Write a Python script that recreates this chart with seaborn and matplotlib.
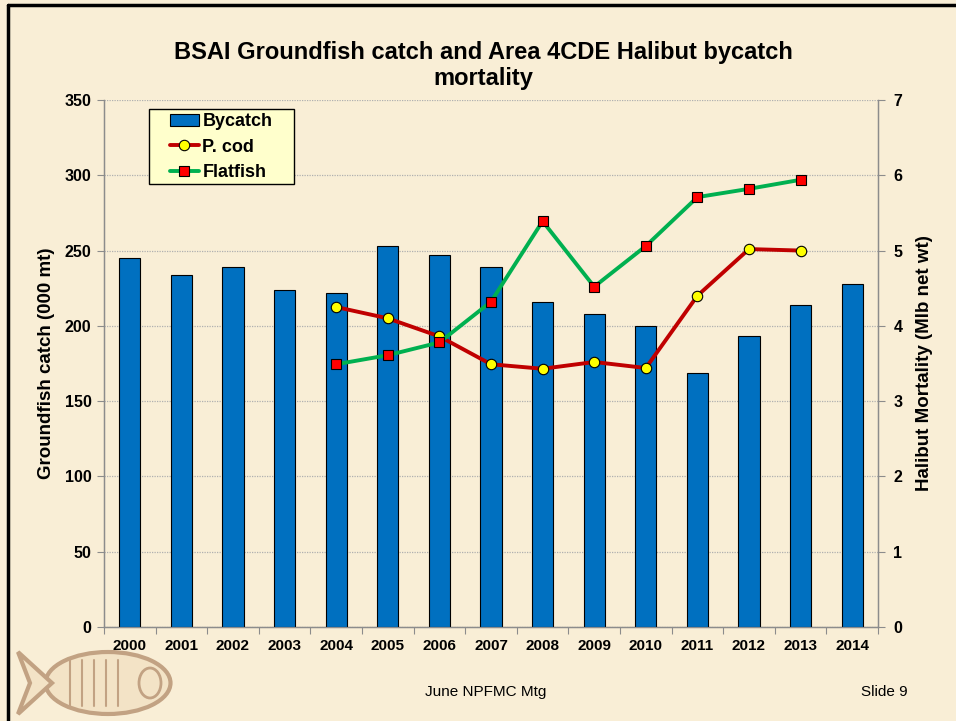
import numpy as np
import pandas as pd
import matplotlib
matplotlib.use("Agg")
import matplotlib.pyplot as plt
from matplotlib.patches import Patch, Ellipse, Polygon, Rectangle
from matplotlib.lines import Line2D
import seaborn as sns

years = ["2000", "2001", "2002", "2003", "2004", "2005", "2006", "2007",
         "2008", "2009", "2010", "2011", "2012", "2013", "2014"]
catch = [245, 234, 239, 224, 222, 253, 247, 239, 216, 208, 200, 169, 193, 214, 228]
pcod_years = ["2004", "2005", "2006", "2007", "2008", "2009", "2010", "2011", "2012", "2013"]
pcod = [4.25, 4.10, 3.86, 3.49, 3.43, 3.52, 3.44, 4.40, 5.02, 5.00]
flat_years = ["2004", "2005", "2006", "2007", "2008", "2009", "2010", "2011", "2012", "2013"]
flatfish = [3.49, 3.61, 3.78, 4.32, 5.39, 4.52, 5.06, 5.71, 5.82, 5.94]

bg = "#F9EED6"
bar_col = "#0070C0"
grey = "#8C8C8C"

sns.set_style("ticks")
plt.rcParams["font.family"] = ["Liberation Sans", "DejaVu Sans"]
plt.rcParams["text.color"] = "black"
plt.rcParams["axes.labelcolor"] = "black"

fig = plt.figure(figsize=(9.56, 7.21), dpi=100, facecolor=bg)
ax = fig.add_axes([104 / 956, 1 - 627 / 721, 774 / 956, 527 / 721])
ax.set_facecolor("none")

df = pd.DataFrame({"year": years, "catch": catch})
sns.barplot(data=df, x="year", y="catch", ax=ax, color=bar_col, width=0.41,
            saturation=1, edgecolor="black", linewidth=0.8, zorder=3)

ax.set_ylim(0, 350)
ax.set_xlim(-0.5, len(years) - 0.5)
ax.set_yticks(range(0, 351, 50))
ax.yaxis.grid(True, linestyle=(0, (1, 1)), color="#B0B0B0", linewidth=0.9, zorder=0)
ax.set_axisbelow(True)
ax.set_xlabel("")
ax.set_ylabel("Groundfish catch (000 mt)", fontsize=13.5, fontweight="bold", labelpad=7)
ax.tick_params(axis="x", length=0, pad=9, labelsize=11, labelcolor="black")
ax.set_xticks(np.arange(-0.5, len(years), 1.0), minor=True)
ax.tick_params(axis="x", which="minor", length=5, color=grey, width=0.8)
ax.tick_params(axis="y", length=5, color=grey, width=0.8, labelsize=11.5, pad=4,
               labelcolor="black")
for lab in ax.get_xticklabels() + ax.get_yticklabels():
    lab.set_fontweight("bold")
for s in ["left", "bottom", "right"]:
    ax.spines[s].set_color(grey)
    ax.spines[s].set_linewidth(1)
ax.spines["top"].set_visible(False)

ax2 = ax.twinx()
ax2.set_ylim(0, 7)
ax2.set_yticks(range(0, 8))
pos = {y: i for i, y in enumerate(years)}
sns.lineplot(x=[pos[y] for y in pcod_years], y=pcod, ax=ax2, color="#C00000",
             linewidth=2.8, marker="o", markersize=7.5, markerfacecolor="#FFFF00",
             markeredgecolor="black", markeredgewidth=0.8, zorder=4)
sns.lineplot(x=[pos[y] for y in flat_years], y=flatfish, ax=ax2, color="#00B050",
             linewidth=2.8, marker="s", markersize=7.5, markerfacecolor="#FF0000",
             markeredgecolor="black", markeredgewidth=0.8, zorder=5)
ax2.set_xlim(-0.5, len(years) - 0.5)
ax2.set_ylabel("Halibut Mortality (Mlb net wt)", fontsize=13.5, fontweight="bold", labelpad=10)
ax2.tick_params(axis="y", length=5, color=grey, width=0.8, labelsize=11.5, pad=6,
                labelcolor="black")
for lab in ax2.get_yticklabels():
    lab.set_fontweight("bold")
for s in ["left", "bottom", "right"]:
    ax2.spines[s].set_color(grey)
ax2.spines["top"].set_visible(False)

# legend box, then entries on top of it
box = Rectangle((45 / 774, (627 - 184) / 527), 145 / 774, 75 / 527, transform=ax2.transAxes,
                facecolor="#FFFFCC", edgecolor="black", linewidth=1, zorder=6)
ax2.add_patch(box)
handles = [
    Patch(facecolor=bar_col, edgecolor="black", linewidth=0.8),
    Line2D([], [], color="#C00000", linewidth=2.8, marker="o", markersize=7.5,
           markerfacecolor="#FFFF00", markeredgecolor="black", markeredgewidth=0.8),
    Line2D([], [], color="#00B050", linewidth=2.8, marker="s", markersize=7.5,
           markerfacecolor="#FF0000", markeredgecolor="black", markeredgewidth=0.8),
]
leg = ax2.legend(handles, ["Bycatch", "P. cod", "Flatfish"], loc="center left",
                 bbox_to_anchor=((170 - 104) / 774, (627 - 147) / 527), frameon=False,
                 prop={"weight": "bold", "size": 13}, handlelength=1.6,
                 handleheight=0.6, handletextpad=0.2, borderpad=0, labelspacing=0.45,
                 borderaxespad=0)
leg.set_zorder(7)

fig.text(483 / 956, 1 - 52 / 721, "BSAI Groundfish catch and Area 4CDE Halibut bycatch",
         ha="center", va="center", fontsize=17, fontweight="bold")
fig.text(483 / 956, 1 - 79 / 721, "mortality",
         ha="center", va="center", fontsize=17, fontweight="bold")
fig.text(486 / 956, 1 - 692 / 721, "June NPFMC Mtg", ha="center", va="center", fontsize=11)
fig.text(908 / 956, 1 - 692 / 721, "Slide 9", ha="right", va="center", fontsize=11)

# slide border
fig.add_artist(Line2D([8 / 956, 1], [1 - 5 / 721, 1 - 5 / 721], color="black", linewidth=2.5))
fig.add_artist(Line2D([8 / 956, 8 / 956], [0, 1 - 5 / 721], color="black", linewidth=2.5))

# simple fish logo
tan = "#C2A283"
fig.add_artist(Ellipse((108 / 956, 1 - 683 / 721), 125 / 956, 62 / 721,
                       transform=fig.transFigure, facecolor="#F3E3C6", edgecolor=tan, linewidth=3))
fig.add_artist(Polygon([(18 / 956, 1 - 652 / 721), (52 / 956, 1 - 683 / 721),
                        (18 / 956, 1 - 714 / 721), (30 / 956, 1 - 683 / 721)],
                       closed=True, transform=fig.transFigure,
                       facecolor="#F3E3C6", edgecolor=tan, linewidth=3))
for xx in [70, 82, 94, 106, 118]:
    fig.add_artist(Line2D([xx / 956, xx / 956], [1 - 660 / 721, 1 - 706 / 721],
                          color=tan, linewidth=1.5))
fig.add_artist(Ellipse((150 / 956, 1 - 683 / 721), 22 / 956, 30 / 721,
                       transform=fig.transFigure, facecolor="none", edgecolor=tan, linewidth=2))

fig.savefig("out.png", dpi=100, facecolor=bg)
